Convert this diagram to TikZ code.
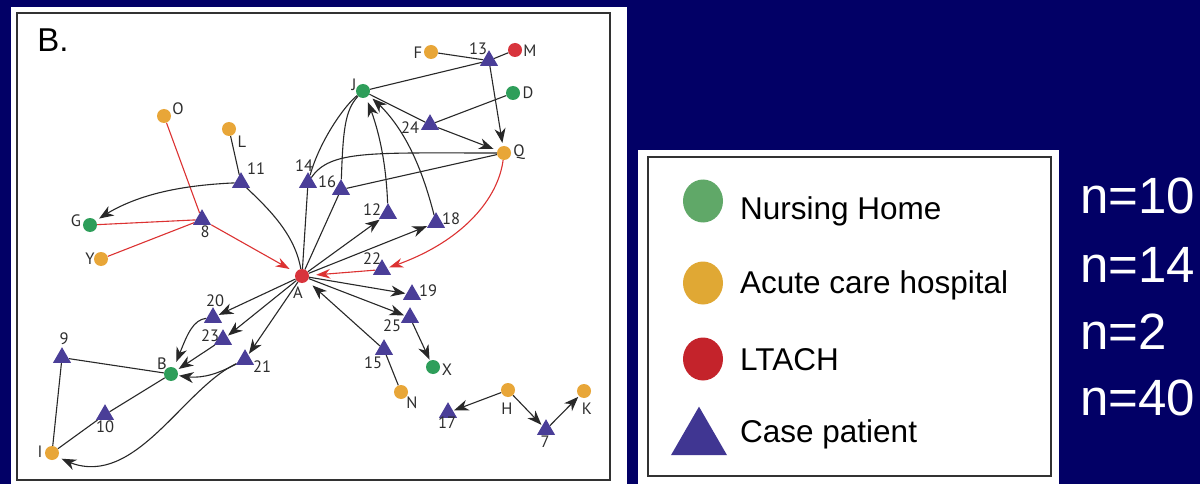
\documentclass[tikz,border=0pt]{standalone}
\usepackage{fontspec}
\setmainfont{Liberation Sans}
\newfontfamily\labfont{PT Sans}
\usetikzlibrary{arrows.meta,shapes.geometric,bending}
\definecolor{navy}{RGB}{2,0,102}
\definecolor{bordc}{RGB}{50,50,50}
\definecolor{gnh}{RGB}{46,158,90}
\definecolor{oach}{RGB}{232,166,56}
\definecolor{rlt}{RGB}{216,52,60}
\definecolor{pcp}{RGB}{74,62,152}
\definecolor{edgec}{RGB}{40,40,40}
\definecolor{redge}{RGB}{220,50,50}
\definecolor{labc}{RGB}{45,45,45}
\definecolor{lgnh}{RGB}{96,168,104}
\definecolor{loach}{RGB}{224,168,52}
\definecolor{lrlt}{RGB}{196,35,43}
\definecolor{lpcp}{RGB}{64,54,146}
\pgfdeclarelayer{bg}
\pgfdeclarelayer{edges}
\pgfsetlayers{bg,edges,main}
\tikzset{
  nh/.style={circle, fill=gnh, minimum size=14pt, inner sep=0pt},
  ach/.style={circle, fill=oach, minimum size=14pt, inner sep=0pt},
  lta/.style={circle, fill=rlt, minimum size=14pt, inner sep=0pt},
  cp/.style={regular polygon, regular polygon sides=3, fill=pcp, minimum size=20.8pt, inner sep=0pt},
  lab/.style={font=\labfont\fontsize{16.5}{16.5}\selectfont, text=labc, inner sep=0pt},
  ln/.style={draw=edgec, line width=1.1pt},
  arr/.style={ln, -{Stealth[length=14.5pt,width=11pt,inset=4.5pt,flex]}, shorten >=1pt},
  rln/.style={draw=redge, line width=1.1pt},
  rarr/.style={rln, -{Stealth[length=14pt,width=9.5pt,inset=4.5pt,flex]}},
  legc/.style={ellipse, minimum width=40pt, minimum height=43pt, inner sep=0pt},
  legt/.style={font=\fontsize{31.5}{32}\selectfont, text=black, anchor=base west, inner sep=0pt},
  ncount/.style={font=\fontsize{51}{52}\selectfont, text=white, anchor=base west, inner sep=0pt},
}
\begin{document}
\begin{tikzpicture}[x=1pt,y=-1pt]
\useasboundingbox (0,0) rectangle (1200,484);
\begin{pgfonlayer}{bg}
\fill[navy] (0,0) rectangle (1200,484);
\fill[white] (11,7) rectangle (627,484);
\draw[bordc, line width=2.2pt] (17,13) rectangle (610,480);
\fill[white] (638,150) rectangle (1059,484);
\draw[bordc, line width=2.2pt] (648,157) rectangle (1051,476);
\end{pgfonlayer}

% panel label
\node[font=\fontsize{33}{33}\selectfont, text=black, inner sep=0pt] (title) at (53,40) {B.};

% circles
\node[ach] (nO) at (164,116) {};
\node[ach] (nL) at (229,129) {};
\node[nh]  (nG) at (90,225) {};
\node[ach] (nY) at (101,259) {};
\node[lta] (nA) at (302,276) {};
\node[ach] (nF) at (431,52) {};
\node[lta] (nM) at (515,50) {};
\node[nh]  (nJ) at (363,91) {};
\node[nh]  (nD) at (513,93) {};
\node[ach] (nQ) at (504,153) {};
\node[nh]  (nB) at (171,374) {};
\node[ach] (nI) at (52,453) {};
\node[nh]  (nX) at (433,367) {};
\node[ach] (nN) at (401,392) {};
\node[ach] (nH) at (508,390) {};
\node[ach] (nK) at (584,391) {};

% triangles
\node[cp] (t8)  at (202,219.6) {};
\node[cp] (t11) at (241,182.6) {};
\node[cp] (t14) at (308,182.6) {};
\node[cp] (t16) at (341,189.6) {};
\node[cp] (t12) at (388,213.6) {};
\node[cp] (t18) at (436,222.6) {};
\node[cp] (t13) at (489,60.6) {};
\node[cp] (t24) at (430,124.6) {};
\node[cp] (t22) at (382,269.6) {};
\node[cp] (t19) at (412,294.6) {};
\node[cp] (t25) at (410,317.6) {};
\node[cp] (t15) at (384,349.6) {};
\node[cp] (t20) at (213,317.6) {};
\node[cp] (t23) at (223,339.6) {};
\node[cp] (t21) at (245,359.6) {};
\node[cp] (t9)  at (62,357.6) {};
\node[cp] (t10) at (105,414.6) {};
\node[cp] (t17) at (448,412.6) {};
\node[cp] (t7)  at (546,429.6) {};

% labels
\node[lab] (lO) at (178,109) {O};
\node[lab] (lL) at (242,142) {L};
\node[lab] (lG) at (76,221) {G};
\node[lab] (lY) at (90,259) {Y};
\node[lab] (lA) at (298,293) {A};
\node[lab] (lF) at (418,53) {F};
\node[lab] (lM) at (530,51) {M};
\node[lab] (lJ) at (354,85) {J};
\node[lab] (lD) at (528,93) {D};
\node[lab] (lQ) at (519,152) {Q};
\node[lab] (lB) at (162,364) {B};
\node[lab] (lI) at (40,452) {I};
\node[lab] (lX) at (447,370) {X};
\node[lab] (lN) at (412,403) {N};
\node[lab] (lH) at (507,409) {H};
\node[lab] (lK) at (587,409) {K};
\node[lab] (l8)  at (205,232) {8};
\node[lab] (l11) at (256,169) {11};
\node[lab] (l14) at (304,166) {14};
\node[lab] (l16) at (327,182) {16};
\node[lab] (l12) at (372,210) {12};
\node[lab] (l18) at (451,219) {18};
\node[lab] (l13) at (478,49) {13};
\node[lab] (l24) at (410,128) {24};
\node[lab] (l22) at (372,259) {22};
\node[lab] (l19) at (428,291) {19};
\node[lab] (l25) at (392,326) {25};
\node[lab] (l15) at (373,363) {15};
\node[lab] (l20) at (215,301) {20};
\node[lab] (l23) at (210,336) {23};
\node[lab] (l21) at (262,367) {21};
\node[lab] (l9)  at (64,339) {9};
\node[lab] (l10) at (105,427) {10};
\node[lab] (l17) at (447,423) {17};
\node[lab] (l7)  at (545,442) {7};

\begin{pgfonlayer}{edges}
% red edges
\draw[rln] (nO) -- (t8);
\draw[rln] (nG) -- (t8);
\draw[rln] (nY) -- (t8);
\draw[rarr, shorten >=7pt] (t8) -- (nA);
\draw[rarr, shorten >=2pt] (nQ) .. controls (498,200) and (460,245) .. (t22);
\draw[rarr, shorten >=7pt] (t22) -- (nA);

% black edges, upper part
\draw[ln] (nL) -- (t11);
\draw[arr, shorten >=4pt] (t11) .. controls (165,186) and (125,200) .. (nG);
\draw[ln] (t11) .. controls (270,210) and (295,235) .. (nA);
\draw[ln] (t14) -- (nA);
\draw[ln] (t16) -- (nA);
\draw[ln] (t14) .. controls (320,140) and (345,105) .. (nJ);
\draw[ln] (t16) .. controls (343,130) and (345,110) .. (nJ);
\draw[ln] (t14) .. controls (330,150) and (370,153) .. (nQ);
\draw[ln] (t16) -- (nQ);
\draw[arr, shorten >=5pt] (t12) .. controls (386,160) and (378,125) .. (nJ);
\draw[arr, shorten >=5pt] (t18) .. controls (420,160) and (400,120) .. (nJ);
\draw[ln] (nJ) -- (t13);
\draw[ln] (nF) -- (t13);
\draw[ln] (t13) -- (nM);
\draw[arr, shorten >=3pt] (t13) -- (nQ);
\draw[ln] (nD) -- (t24);
\draw[ln] (nJ) -- (t24);
\draw[arr, shorten >=4pt] (t24) -- (nQ);

% from A
\draw[arr] (nA) -- (t12);
\draw[arr] (nA) -- (t18);
\draw[arr] (nA) -- (t19);
\draw[arr] (nA) -- (t25);
\draw[arr, shorten >=7pt] (t15) -- (nA);
\draw[ln] (t15) -- (nN);
\draw[arr] (t25) -- (nX);
\draw[arr] (nA) -- (t20);
\draw[arr] (nA) -- (t23);
\draw[arr] (nA) -- (t21);

% lower left
\draw[arr, shorten >=6pt] (t20) .. controls (190,320) and (185,342) .. (nB);
\draw[arr, shorten >=2pt] (t23) -- (nB);
\draw[arr] (t21) .. controls (215,375) and (200,380) .. (nB);
\draw[arr, shorten >=4pt] (t21) .. controls (180,390) and (130,500) .. (nI);
\draw[ln] (t9) -- (nB);
\draw[ln] (t9) -- (nI);
\draw[ln] (nB) -- (t10);
\draw[ln] (t10) -- (nI);

% lower right
\draw[arr] (nH) -- (t17);
\draw[arr] (nH) -- (t7);
\draw[arr] (t7) -- (nK);
\end{pgfonlayer}

% legend
\node[legc, fill=lgnh]  (kNH) at (703,201) {};
\node[legc, fill=loach] (kAC) at (703,283) {};
\node[legc, fill=lrlt]  (kLT) at (703,359) {};
\node[regular polygon, regular polygon sides=3, fill=lpcp, minimum size=64.7pt, inner sep=0pt] (kCP) at (699,439) {};
\node[legt] (tNH) at (740,219) {Nursing Home};
\node[legt] (tAC) at (740,293) {Acute care hospital};
\node[legt] (tLT) at (740,370) {LTACH};
\node[legt] (tCP) at (740,442) {Case patient};

% counts
\node[ncount] (c1) at (1080,214) {n=10};
\node[ncount] (c2) at (1080,282) {n=14};
\node[ncount] (c3) at (1080,349) {n=2};
\node[ncount] (c4) at (1080,415) {n=40};
\end{tikzpicture}
\end{document}
